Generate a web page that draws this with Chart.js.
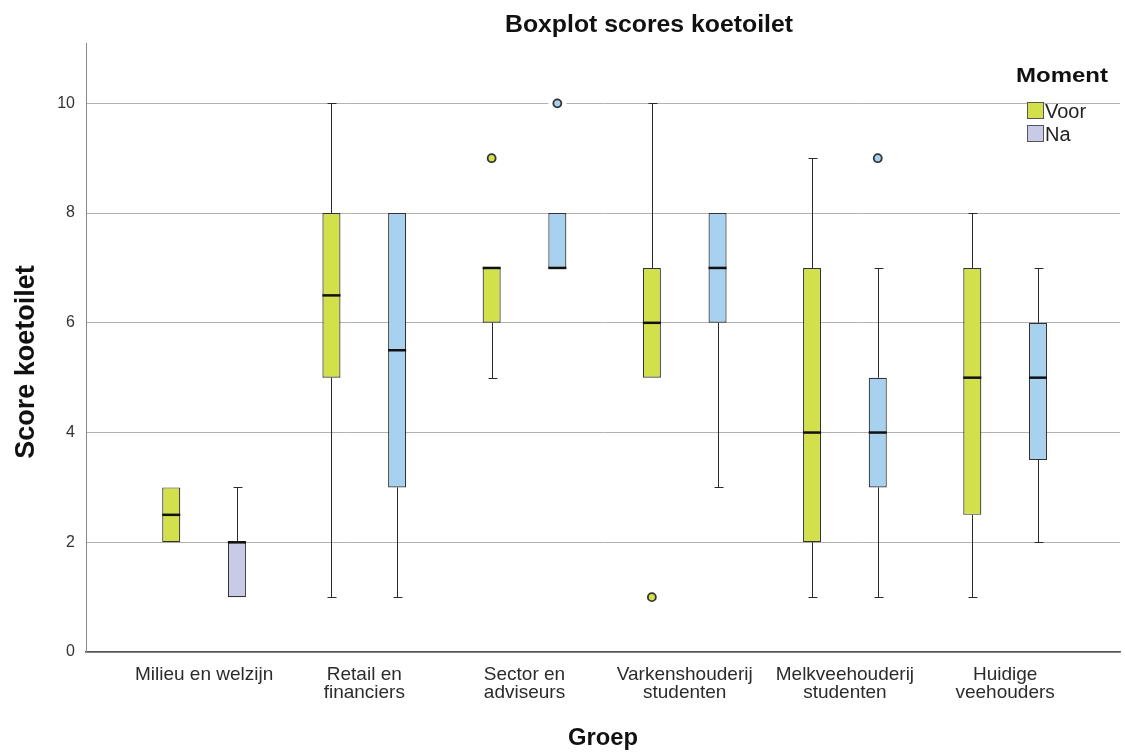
<!DOCTYPE html>
<html>
<head>
<meta charset="utf-8">
<script src="https://cdn.jsdelivr.net/npm/chart.js@4"></script>
<style>
    html, body { margin: 0; padding: 0; background: #ffffff; }
</style>
</head>
<body>
<canvas id="boxplotChart" width="1125" height="753"></canvas>
<script>
const groepen = [
    ['Milieu en welzijn'],
    ['Retail en', 'financiers'],
    ['Sector en', 'adviseurs'],
    ['Varkenshouderij', 'studenten'],
    ['Melkveehouderij', 'studenten'],
    ['Huidige', 'veehouders']
];
const momenten = ['Voor', 'Na'];
const yTicks = [0, 2, 4, 6, 8, 10];

// Voor
const voorMin = [2, 1, 5, 5, 1, 1];
const voorQ1 = [2, 5, 6, 5, 2, 2.5];
const voorMediaan = [2.5, 6.5, 7, 6, 4, 5];
const voorQ3 = [3, 8, 7, 7, 7, 7];
const voorMax = [3, 10, 7, 10, 9, 8];
const voorUitschieters = [[], [], [9], [1], [], []];

// Na
const naMin = [1, 1, 7, 3, 1, 2];
const naQ1 = [1, 3, 7, 6, 3, 3.5];
const naMediaan = [2, 5.5, 7, 7, 4, 5];
const naQ3 = [2, 8, 8, 8, 5, 6];
const naMax = [3, 8, 8, 8, 7, 7];
const naUitschieters = [[], [], [10], [], [9], []];

const FONT = "'Liberation Sans', Arial, sans-serif";
const voorKleur = '#d2e04c';
const naKleur = '#a8d0ef';
const naKleurMilieu = '#c9c9e8';

const reeksen = [
    { min: voorMin, q1: voorQ1, med: voorMediaan, q3: voorQ3, max: voorMax, out: voorUitschieters, kleur: voorKleur },
    { min: naMin, q1: naQ1, med: naMediaan, q3: naQ3, max: naMax, out: naUitschieters, kleur: naKleur }
];

function stretchedText(ctx, text, x, y, width, font, align) {
    ctx.save();
    ctx.font = font;
    const w = ctx.measureText(text).width;
    ctx.translate(x, y);
    ctx.scale(width / w, 1);
    ctx.textAlign = align;
    ctx.textBaseline = 'alphabetic';
    ctx.fillText(text, 0, 0);
    ctx.restore();
}

// whiskers, medians and outliers on top of the floating bars
const boxExtras = {
    id: 'boxExtras',
    afterDatasetsDraw(chart) {
        const ctx = chart.ctx;
        const y = chart.scales.y;
        chart.data.datasets.forEach((ds, di) => {
            const r = reeksen[di];
            chart.getDatasetMeta(di).data.forEach((bar, i) => {
                const x = Math.round(bar.x) + 0.5;
                const half = bar.width / 2;
                const yMin = Math.round(y.getPixelForValue(r.min[i])) + 0.5;
                const yQ1 = y.getPixelForValue(r.q1[i]);
                const yQ3 = y.getPixelForValue(r.q3[i]);
                const yMax = Math.round(y.getPixelForValue(r.max[i])) + 0.5;
                ctx.save();
                ctx.strokeStyle = '#2a2a2a';
                ctx.lineWidth = 1;
                ctx.beginPath();
                if (r.max[i] > r.q3[i]) {
                    ctx.moveTo(x, yQ3);
                    ctx.lineTo(x, yMax);
                    ctx.moveTo(x - 4, yMax);
                    ctx.lineTo(x + 5, yMax);
                }
                if (r.min[i] < r.q1[i]) {
                    ctx.moveTo(x, yQ1);
                    ctx.lineTo(x, yMin);
                    ctx.moveTo(x - 4, yMin);
                    ctx.lineTo(x + 5, yMin);
                }
                ctx.stroke();

                const yMed = y.getPixelForValue(r.med[i]);
                ctx.strokeStyle = '#111111';
                ctx.lineWidth = 2.5;
                ctx.beginPath();
                ctx.moveTo(bar.x - half, yMed);
                ctx.lineTo(bar.x + half, yMed);
                ctx.stroke();

                r.out[i].forEach(v => {
                    const yo = y.getPixelForValue(v);
                    ctx.fillStyle = '#ffffff';
                    ctx.beginPath();
                    ctx.arc(bar.x, yo, 9, 0, Math.PI * 2);
                    ctx.fill();
                    ctx.fillStyle = r.kleur;
                    ctx.strokeStyle = '#333333';
                    ctx.lineWidth = 1.8;
                    ctx.beginPath();
                    ctx.arc(bar.x, yo, 4, 0, Math.PI * 2);
                    ctx.fill();
                    ctx.stroke();
                });
                ctx.restore();
            });
        });
    }
};

// titles and legend
const chartTexts = {
    id: 'chartTexts',
    afterDraw(chart) {
        const ctx = chart.ctx;
        const area = chart.chartArea;
        ctx.save();
        ctx.fillStyle = '#111111';
        stretchedText(ctx, 'Boxplot scores koetoilet', 649, 32, 288, 'bold 23px ' + FONT, 'center');
        stretchedText(ctx, 'Groep', (area.left + area.right) / 2, 745, 70, 'bold 23px ' + FONT, 'center');

        ctx.save();
        ctx.translate(34, 362);
        ctx.rotate(-Math.PI / 2);
        ctx.font = 'bold 27px ' + FONT;
        ctx.textAlign = 'center';
        ctx.fillText('Score koetoilet', 0, 0);
        ctx.restore();

        stretchedText(ctx, 'Moment', 1016, 82, 92, 'bold 20px ' + FONT, 'left');
        const swatches = [voorKleur, naKleurMilieu];
        chart.data.datasets.forEach((ds, di) => {
            const top = 102 + di * 23;
            ctx.fillStyle = swatches[di];
            ctx.fillRect(1027, top, 16, 16);
            ctx.strokeStyle = '#555555';
            ctx.lineWidth = 1;
            ctx.strokeRect(1027.5, top + 0.5, 16, 16);
            ctx.fillStyle = '#222222';
            ctx.font = '20px ' + FONT;
            ctx.textAlign = 'left';
            ctx.fillText(ds.label, 1045, top + 16);
        });
        ctx.restore();
    }
};

const ctx = document.getElementById('boxplotChart').getContext('2d');
new Chart(ctx, {
    type: 'bar',
    data: {
        datasets: reeksen.map((r, di) => ({
            label: momenten[di],
            data: groepen.map((g, i) => ({ x: i, y: [r.q1[i], r.q3[i]] })),
            backgroundColor: di === 1 ? groepen.map((g, i) => i === 0 ? naKleurMilieu : naKleur) : voorKleur,
            borderColor: '#333333',
            borderWidth: 1.2,
            borderSkipped: false,
            categoryPercentage: 0.82,
            barPercentage: 0.275
        }))
    },
    options: {
        responsive: false,
        animation: false,
        layout: { padding: { top: 43, right: 5, left: 0, bottom: 0 } },
        plugins: {
            legend: { display: false },
            title: { display: false },
            tooltip: { enabled: false }
        },
        scales: {
            x: {
                type: 'linear',
                offset: false,
                min: -0.737,
                max: 5.717,
                afterFit: (scale) => { scale.height = 101; },
                grid: { display: false, offset: false },
                border: { display: true, color: '#555555', width: 1.5 },
                ticks: {
                    stepSize: 1,
                    includeBounds: false,
                    autoSkip: false,
                    maxRotation: 0,
                    padding: 6,
                    color: '#2b2b2b',
                    font: { family: FONT, size: 19, lineHeight: 0.95 },
                    callback: (value) => groepen[value] || ''
                }
            },
            y: {
                min: 0,
                max: 11.1,
                afterFit: (scale) => { scale.width = 86; },
                grid: { color: '#b2b2b2', lineWidth: 1, drawTicks: false },
                border: { display: true, color: '#888888', width: 1 },
                ticks: {
                    stepSize: 2,
                    includeBounds: false,
                    padding: 11,
                    color: '#333333',
                    font: { family: FONT, size: 16 },
                    callback: (value) => yTicks.includes(value) ? String(value) : ''
                }
            }
        }
    },
    plugins: [boxExtras, chartTexts]
});
</script>
</body>
</html>
